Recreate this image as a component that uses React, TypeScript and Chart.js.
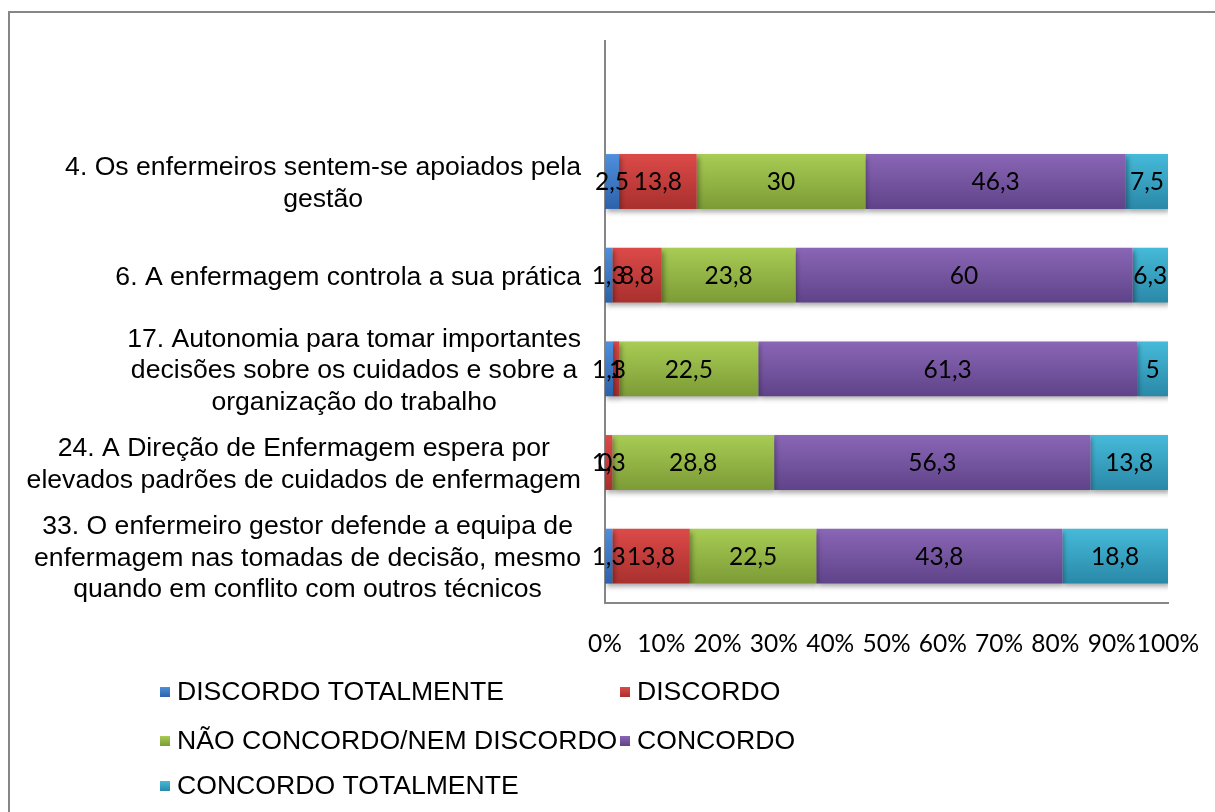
import React, { useEffect, useRef } from "react";
import { Chart, registerables } from "chart.js";

Chart.register(...registerables);

const categories: string[][] = [
  [],
  ["4. Os enfermeiros sentem-se apoiados pela", "gestão"],
  ["6. A enfermagem controla a sua prática"],
  ["17. Autonomia para tomar importantes", "decisões sobre os cuidados e sobre a", "organização do trabalho"],
  ["24. A Direção de Enfermagem espera por", "elevados padrões de cuidados de enfermagem"],
  ["33. O enfermeiro gestor defende a equipa de", "enfermagem nas tomadas de decisão, mesmo", "quando em conflito com outros técnicos"],
];

const seriesNames = [
  "DISCORDO TOTALMENTE",
  "DISCORDO",
  "NÃO CONCORDO/NEM DISCORDO",
  "CONCORDO",
  "CONCORDO TOTALMENTE",
];

const discordoTotalmente = [null, 2.5, 1.3, 1.3, 0, 1.3];
const discordo = [null, 13.8, 8.8, 1, 1.3, 13.8];
const naoConcordoNemDiscordo = [null, 30, 23.8, 22.5, 28.8, 22.5];
const concordo = [null, 46.3, 60, 61.3, 56.3, 43.8];
const concordoTotalmente = [null, 7.5, 6.3, 5, 13.8, 18.8];

const xTicks = [0, 10, 20, 30, 40, 50, 60, 70, 80, 90, 100];

const colorsTop = ["#4f8fdc", "#dc4a48", "#a8cc54", "#8a66b6", "#46bad9"];
const colorsBottom = ["#2c62aa", "#a8302e", "#7c9b36", "#5f4389", "#2a88a8"];
const colorsMid = ["#3b79c6", "#c83c3a", "#94b845", "#7656a2", "#36a2c2"];

const AXIS_COLOR = "#868686";
const LABEL_FONT = "26.6px 'Liberation Sans', Arial, sans-serif";
const NUM_FONT = "24.5px Lato, 'Open Sans', sans-serif";

const BAR_PCT = 0.586;

export default function App() {
  const ref = useRef<HTMLCanvasElement | null>(null);

  useEffect(() => {
    const canvas = ref.current;
    if (!canvas) return;
    const raw = [discordoTotalmente, discordo, naoConcordoNemDiscordo, concordo, concordoTotalmente];
    const totals = categories.map((_, i) => {
      let s = 0;
      let any = false;
      raw.forEach((arr) => {
        const v = arr[i];
        if (v !== null && v !== undefined) {
          s += v;
          any = true;
        }
      });
      return any ? s : null;
    });
    const pct = raw.map((arr) =>
      arr.map((v, i) => (v === null || totals[i] === null ? null : (v / (totals[i] as number)) * 100))
    );

    const gradientFor = (dsIndex: number) => (ctx: any) => {
      const chart = ctx.chart;
      const area = chart.chartArea;
      const yScale = chart.scales && chart.scales.y;
      if (!area || !yScale || ctx.dataIndex === undefined) return colorsMid[dsIndex];
      const yc = yScale.getPixelForValue(ctx.dataIndex);
      const band = (area.bottom - area.top) / categories.length;
      const half = (band * BAR_PCT) / 2;
      const g = chart.ctx.createLinearGradient(0, yc - half, 0, yc + half);
      g.addColorStop(0, colorsTop[dsIndex]);
      g.addColorStop(1, colorsBottom[dsIndex]);
      return g;
    };

    const decorPlugin = {
      id: "decor",
      beforeDraw(chart: any) {
        const c = chart.ctx;
        c.save();
        c.fillStyle = "#ffffff";
        c.fillRect(0, 0, chart.width, chart.height);
        c.fillStyle = AXIS_COLOR;
        c.fillRect(8, 11, chart.width - 8, 2);
        c.fillRect(8, 11, 2, chart.height - 11);
        c.restore();
      },
      beforeDatasetsDraw(chart: any) {
        const c = chart.ctx;
        c.save();
        c.shadowColor = "rgba(0,0,0,0.35)";
        c.shadowBlur = 5;
        c.shadowOffsetX = 2;
        c.shadowOffsetY = 3;
      },
      afterDatasetsDraw(chart: any) {
        const c = chart.ctx;
        c.restore();
        c.save();
        c.font = NUM_FONT;
        c.fillStyle = "#000000";
        c.textAlign = "center";
        c.textBaseline = "middle";
        chart.data.datasets.forEach((ds: any, di: number) => {
          const meta = chart.getDatasetMeta(di);
          meta.data.forEach((el: any, i: number) => {
            const v = raw[di][i];
            if (v === null || v === undefined) return;
            const p = el.getCenterPoint();
            c.fillText(String(v).replace(".", ","), p.x, p.y + 1);
          });
        });
        c.restore();
      },
      afterDraw(chart: any) {
        const c = chart.ctx;
        const yScale = chart.scales.y;
        c.save();
        c.font = LABEL_FONT;
        c.fillStyle = "#000000";
        c.textAlign = "center";
        c.textBaseline = "middle";
        const rightEdge = 581;
        const lh = 31.5;
        categories.forEach((lines, i) => {
          if (!lines.length) return;
          const maxW = Math.max(...lines.map((l) => c.measureText(l).width));
          const cx = rightEdge - maxW / 2;
          const yc = yScale.getPixelForTick(i) + 2;
          const y0 = yc - ((lines.length - 1) * lh) / 2;
          lines.forEach((l, k) => c.fillText(l, cx, y0 + k * lh));
        });
        const legendPos = [
          [160, 692],
          [620, 692],
          [160, 741],
          [620, 741],
          [160, 786],
        ];
        c.textAlign = "left";
        seriesNames.forEach((name, i) => {
          const [x, y] = legendPos[i];
          const g = c.createLinearGradient(0, y - 5, 0, y + 5);
          g.addColorStop(0, colorsTop[i]);
          g.addColorStop(1, colorsBottom[i]);
          c.fillStyle = g;
          c.fillRect(x, y - 5, 10, 10);
          c.fillStyle = "#000000";
          c.fillText(name, x + 17, y + 1);
        });
        c.restore();
      },
    };

    const chart = new Chart(canvas, {
      type: "bar",
      data: {
        labels: categories.map((l) => l.join(" ")),
        datasets: seriesNames.map((name, di) => ({
          label: name,
          data: pct[di] as any,
          backgroundColor: gradientFor(di),
          borderWidth: 0,
          categoryPercentage: 1,
          barPercentage: BAR_PCT,
        })),
      },
      options: {
        indexAxis: "y",
        responsive: false,
        animation: false,
        events: [],
        layout: { padding: { top: 41, right: 47, left: 0, bottom: 0 } },
        plugins: {
          legend: { display: false },
          tooltip: { enabled: false },
          title: { display: false },
        },
        scales: {
          x: {
            stacked: true,
            min: 0,
            max: 100,
            afterFit: (s: any) => {
              s.height = 812 - 603;
              s.paddingLeft = 0;
              s.paddingRight = 0;
            },
            afterBuildTicks: (s: any) => {
              s.ticks = xTicks.map((v) => ({ value: v }));
            },
            grid: { display: false, drawTicks: false },
            border: { display: true, color: AXIS_COLOR, width: 2 },
            ticks: {
              padding: 26,
              color: "#000000",
              font: { family: "Lato, 'Open Sans', sans-serif", size: 24.5 },
              callback: (v: any) => v + "%",
              maxRotation: 0,
              autoSkip: false,
            },
          },
          y: {
            stacked: true,
            afterFit: (s: any) => {
              s.width = 605;
              s.paddingTop = 0;
              s.paddingBottom = 0;
            },
            grid: { display: false, drawTicks: false },
            border: { display: true, color: AXIS_COLOR, width: 2 },
            ticks: { display: false },
          },
        },
      },
      plugins: [decorPlugin],
    });

    return () => chart.destroy();
  }, []);

  return (
    <div style={{ position: "absolute", left: 0, top: 0, width: 1215, height: 812, overflow: "hidden" }}>
      <canvas ref={ref} width={1215} height={812} style={{ display: "block" }} />
    </div>
  );
}
